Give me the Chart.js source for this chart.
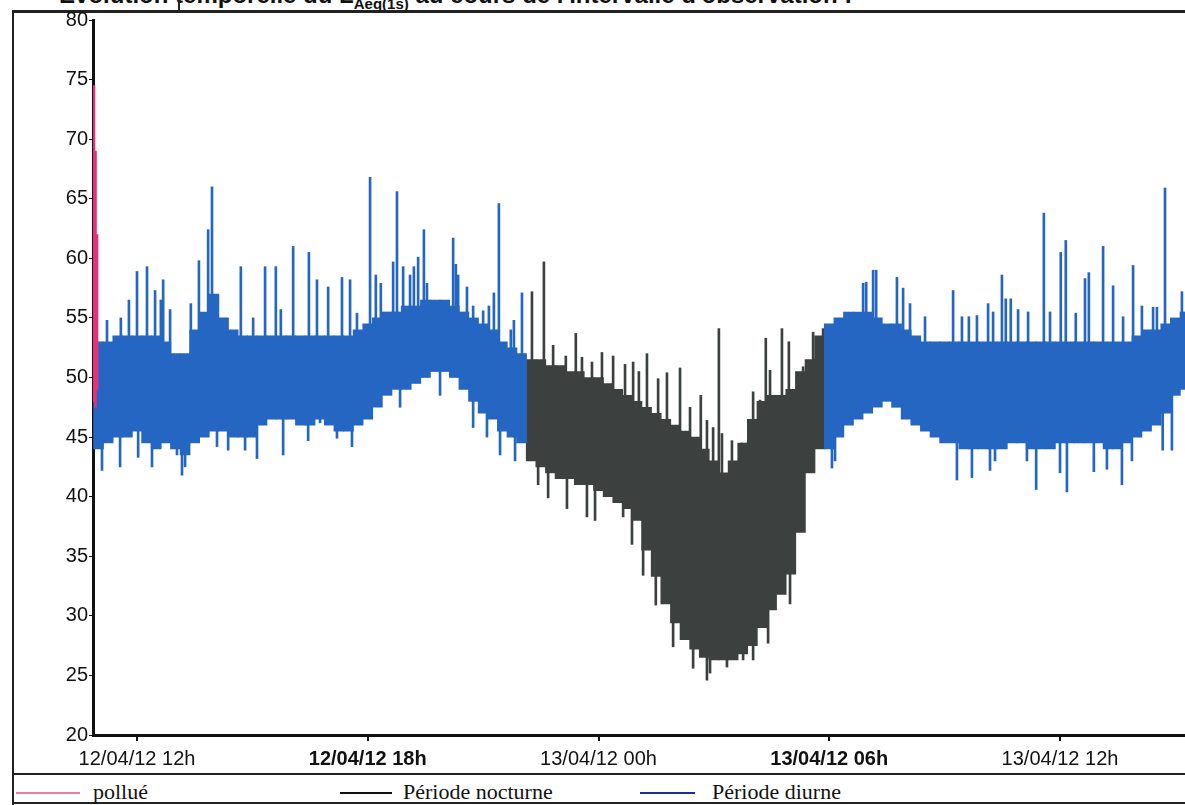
<!DOCTYPE html>
<html>
<head>
<meta charset="utf-8">
<script src="https://cdn.jsdelivr.net/npm/chart.js@4.4.0/dist/chart.umd.min.js"></script>
<style>
  body { margin: 0; background: #fff; width: 1185px; height: 805px; overflow: hidden; position: relative; }
  #title { position: absolute; left: 44px; top: -19px; font: bold 24px Arial, "Liberation Sans", sans-serif; color: #111; white-space: nowrap; }
  .rule { position: absolute; background: #222; }
  #wrap { position: absolute; left: 0; top: 0; }
  .leg { position: absolute; top: 779px; font: 22px "Liberation Serif", "Times New Roman", serif; color: #111; }
  .legline { position: absolute; top: 792px; height: 2px; }
</style>
</head>
<body>
<div id="title">• Evolution temporelle du L<sub style="font-size:15px">Aeq(1s)</sub> au cours de l'intervalle d'observation :</div>
<div class="rule" style="left:12px; top:10px; width:1173px; height:3px;"></div>
<div class="rule" style="left:178px; top:0px; width:2px; height:11px;"></div>
<div class="rule" style="left:12px; top:10px; width:2px; height:795px;"></div>
<div class="rule" style="left:12px; top:773px; width:1173px; height:2px;"></div>
<div class="rule" style="left:12px; top:802px; width:1173px; height:2px;"></div>
<div id="wrap"><canvas id="chart" width="1185" height="773"></canvas></div>

<div class="legline" style="left:16px; width:64px; background:#ee7aa5;"></div>
<div class="leg" style="left:93px;">pollué</div>
<div class="legline" style="left:340px; width:52px; background:#111;"></div>
<div class="leg" style="left:403px;">Période nocturne</div>
<div class="legline" style="left:640px; width:55px; background:#1c2c9c;"></div>
<div class="leg" style="left:712px;">Période diurne</div>

<script>
// time in hours from 12/04/12 00h
const tickHours = [12, 18, 24, 30, 36];
const tickLabels = ['12/04/12 12h', '12/04/12 18h', '13/04/12 00h', '13/04/12 06h', '13/04/12 12h'];
const boldTicks = [18, 30];

// polluted start
const pinkTimes = [10.88, 10.92, 10.96];
const pinkLow = [48, 47.5, 49];
const pinkHigh = [74.5, 69, 62];

// day period 1, body of the signal every 15 min
const day1Times = [11.0,11.25,11.5,11.75,12.0,12.25,12.5,12.75,13.0,13.25,13.5,13.75,14.0,14.25,14.5,14.75,15.0,15.25,15.5,15.75,16.0,16.25,16.5,16.75,17.0,17.25,17.5,17.75,18.0,18.25,18.5,18.75,19.0,19.25,19.5,19.75,20.0,20.25,20.5,20.75,21.0,21.25,21.5,21.75,22.0];
const day1Low = [44,44.5,45,45,45.5,44.5,44,44.5,44,43.5,44.5,45,45.5,45.5,45,45,45,46,46.5,46.5,46.5,46,46,46.5,46,45.5,45.5,46,46.5,47.5,48.5,49,49,49.5,50,50.5,50.5,50,49,48,47,46.5,45.5,45,44.5];
const day1High = [53,53,53.5,53.5,53.5,53.5,53.5,53,52,52,54,55.5,57,55,54,53.5,53.5,53.5,53.5,53.5,53.5,53.5,53.5,53.5,53.5,53.5,53.5,54,54.5,55,55.5,55.5,56,56,56.5,56.5,56.5,56,55.5,55,54.5,54,53,52.5,52];

// night period
const nightTimes = [22.25,22.5,22.75,23.0,23.25,23.5,23.75,24.0,24.25,24.5,24.75,25.0,25.25,25.5,25.75,26.0,26.25,26.5,26.75,27.0,27.25,27.5,27.75,28.0,28.25,28.5,28.75,29.0,29.25,29.5,29.75];
const nightLow = [43,42.5,42,41.5,41.5,41,41,40.5,40,39.5,39,38,35.5,33.3,31,29.4,28,27.2,26.5,26.3,26.3,26.3,26.8,27.5,29,30.5,31.8,33.5,37,42,44];
const nightHigh = [51.5,51.5,51,51,50.5,50.5,50,50,49.5,49,48.5,48,47.5,47,46.5,46,45.5,45,44,43,42,43,44.5,46.5,48,48.5,48.5,49,50.5,51.5,53.5];

// day period 2
const day2Times = [30.0,30.25,30.5,30.75,31.0,31.25,31.5,31.75,32.0,32.25,32.5,32.75,33.0,33.25,33.5,33.75,34.0,34.25,34.5,34.75,35.0,35.25,35.5,35.75,36.0,36.25,36.5,36.75,37.0,37.25,37.5,37.75,38.0,38.25,38.5,38.75,39.0,39.25];
const day2Low = [44,45,46,46.5,47,47.5,48,47.5,46.5,46,45.5,45,44.5,44.5,44,44,44,44,44,44.5,44.5,44,44,44,44.5,44.5,44.5,44.5,44.5,44,44,44.5,45,45.5,46,47,48.5,49];
const day2High = [54.5,55,55.5,55.5,55.5,55,54.5,54.5,54,53.5,53,53,53,53,53,53,53,53,53,53,53,53,53,53,53,53,53,53,53,53,53,53,53.5,54,54,54.5,55,55.5];

// isolated peaks and dips
const daySpikeTimes = [11.22,11.58,11.79,12.0,12.26,12.47,12.62,12.68,12.86,13.40,13.61,13.85,13.95,14.70,15.02,15.33,15.61,15.74,16.06,16.47,16.68,16.97,17.33,17.54,17.72,18.06,18.21,18.34,18.66,18.76,18.92,19.10,19.20,19.31,19.46,19.54,20.22,20.29,20.35,20.58,20.74,21.0,21.15,21.28,21.41,21.72,21.80,22.01,
  30.88,30.96,31.14,31.22,31.76,31.92,32.10,32.49,33.22,33.45,33.63,33.84,34.13,34.26,34.49,34.59,34.72,34.91,35.17,35.58,35.74,36.02,36.15,36.41,36.65,36.75,37.12,37.38,37.64,37.90,38.13,38.42,38.52,38.73,39.17];
const daySpikePeaks = [54.8,55,56.5,58.9,59.3,57.3,56.5,58.2,55.7,56.2,59.8,62.4,66,59.3,55,59.3,59.3,55.7,61,60.5,58.2,57.6,58.4,58.2,55.4,66.8,58.6,57.9,59.7,65.6,59.3,58.6,59.3,60.1,62.4,57.9,61.7,59.5,58.6,57.6,56,55.6,56,57.1,64.6,54,54.8,57.1,
  57.9,58,59,59,58.4,57.5,56.2,55.1,57.3,55.1,55.1,55.2,56.2,55.5,58.6,56.6,56.6,55.7,55.5,63.8,55.5,60.5,61.5,55.4,58.3,58.8,61,57.7,55.1,59.4,56,55.9,55.9,65.9,57.2];
const dayDipTimes = [11.09,11.56,12.03,12.39,13.04,13.17,13.25,14.08,14.37,14.81,15.12,15.80,16.45,16.76,17.20,17.59,18.06,18.84,19.88,20.74,21.10,21.44,21.83,
  30.07,30.15,33.32,33.71,34.18,34.31,35.14,35.38,36.0,36.18,36.88,37.22,37.61,37.87,38.67,38.91];
const dayDipLows = [42.2,42.5,43.3,42.5,43.5,41.8,42.5,44.2,43.9,43.9,43.2,43.5,44.7,46.2,44.9,44.2,46.7,47.5,48.5,45.8,45,43.5,43,
  42.4,43,41.4,41.6,42.2,43,43,40.6,42,40.4,42.1,42.3,41,43,43.9,43.9];

const nightSpikeTimes = [22.27,22.58,22.82,23.15,23.41,23.57,23.83,24.09,24.38,24.69,24.90,25.05,25.26,25.55,25.78,26.12,26.38,26.66,26.82,26.98,27.13,27.21,27.47,27.73,27.86,28.02,28.20,28.35,28.46,28.77,28.95,29.32,29.58,29.84];
const nightSpikePeaks = [57.2,59.7,52.7,51.8,53.7,51.7,51.3,52.1,51.8,51.1,51.3,50.5,52,49.9,50.4,50.8,47.5,48.5,46.4,45.8,54.1,45.3,44.7,44.5,44.5,48.8,48.1,53.3,50.6,54.1,53,50.9,53.8,54.1];
const nightDipTimes = [22.43,22.69,23.18,23.70,23.91,24.64,24.87,25.16,25.49,25.94,26.46,26.82,26.90,27.34,27.76,28.02,28.41,28.98];
const nightDipLows = [41,39.9,39,38.3,38,38.3,36,33.4,30.9,27.4,25.6,24.6,25.2,25.7,26.3,26.3,27.7,31];

const BLUE = '#2466c2';
const DARK = '#3c403f';
const PINK = '#e8307a';

const allTimes = day1Times.concat(nightTimes, day2Times);
const allLow = day1Low.concat(nightLow, day2Low);
const allHigh = day1High.concat(nightHigh, day2High);
function midAt(t) {
  let best = 0;
  for (let i = 1; i < allTimes.length; i++) {
    if (Math.abs(allTimes[i] - t) < Math.abs(allTimes[best] - t)) best = i;
  }
  return (allLow[best] + allHigh[best]) / 2;
}

function ranges(times, lows, highs) {
  return times.map((t, i) => ({ x: t, y: [lows[i], highs[i]] }));
}
function spikes(times, peaks) {
  return times.map((t, i) => ({ x: t, y: [midAt(t), peaks[i]] }));
}
function dips(times, lows) {
  return times.map((t, i) => ({ x: t, y: [lows[i], midAt(t)] }));
}

function bar(label, data, color, thickness) {
  return {
    label: label,
    data: data,
    backgroundColor: color,
    borderWidth: 0,
    borderSkipped: false,
    barThickness: thickness,
    grouped: false
  };
}

new Chart(document.getElementById('chart'), {
  type: 'bar',
  data: {
    datasets: [
      bar('pollué', ranges(pinkTimes, pinkLow, pinkHigh), PINK, 2),
      bar('Période diurne', ranges(day1Times, day1Low, day1High), BLUE, 10),
      bar('Période diurne', ranges(day2Times, day2Low, day2High), BLUE, 10),
      bar('Période nocturne', ranges(nightTimes, nightLow, nightHigh), DARK, 10),
      bar('Période diurne', spikes(daySpikeTimes, daySpikePeaks), BLUE, 2),
      bar('Période diurne', dips(dayDipTimes, dayDipLows), BLUE, 2),
      bar('Période nocturne', spikes(nightSpikeTimes, nightSpikePeaks), DARK, 2),
      bar('Période nocturne', dips(nightDipTimes, nightDipLows), DARK, 2)
    ]
  },
  options: {
    responsive: false,
    animation: false,
    layout: { padding: { top: 20, left: 0, right: 0, bottom: 0 } },
    plugins: { legend: { display: false }, tooltip: { enabled: false } },
    scales: {
      x: {
        type: 'linear',
        offset: false,
        min: 10.856,
        max: 39.25,
        afterBuildTicks: (scale) => { scale.ticks = tickHours.map(v => ({ value: v })); },
        afterFit: (scale) => { scale.height = 38; },
        grid: { offset: false, drawOnChartArea: false, drawTicks: true, tickLength: 6, color: '#111', lineWidth: 2 },
        border: { color: '#111', width: 3 },
        ticks: {
          autoSkip: false,
          maxRotation: 0,
          padding: 6,
          color: '#111',
          font: (ctx) => ({
            family: 'Arial, "Liberation Sans", sans-serif',
            size: 20,
            weight: ctx.tick && boldTicks.includes(ctx.tick.value) ? 'bold' : 'normal'
          }),
          callback: (v) => tickLabels[tickHours.indexOf(v)]
        }
      },
      y: {
        min: 20,
        max: 80,
        afterFit: (scale) => { scale.width = 93; },
        grid: { drawOnChartArea: false, drawTicks: true, tickLength: 4, color: '#111' },
        border: { color: '#111', width: 3 },
        ticks: {
          stepSize: 5,
          padding: 1,
          color: '#111',
          font: { family: 'Arial, "Liberation Sans", sans-serif', size: 20 }
        }
      }
    }
  }
});
</script>
</body>
</html>
